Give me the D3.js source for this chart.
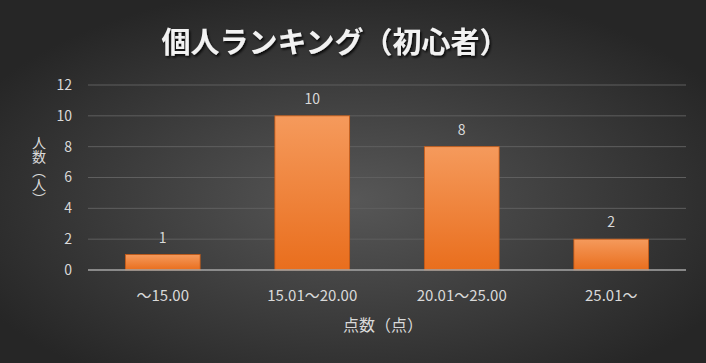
<!DOCTYPE html>
<html lang="ja">
<head>
<meta charset="utf-8" />
<title>個人ランキング（初心者）</title>
<style>
html, body { margin: 0; padding: 0; background: #2a2a2a; }
svg { display: block; }
text { font-family: "Noto Sans CJK JP", "Noto Sans", sans-serif; }
</style>
</head>
<body>
<div id="chart"></div>
<script src="https://cdnjs.cloudflare.com/ajax/libs/d3/7.8.5/d3.min.js"></script>
<script>
var categories = ["～15.00", "15.01～20.00", "20.01～25.00", "25.01～"];
var counts = [1, 10, 8, 2];
var yTicks = [0, 2, 4, 6, 8, 10, 12];
var title = "個人ランキング（初心者）";
var xTitle = "点数（点）";
var yTitle = "人数（人）";

var W = 706, H = 363;
var plotLeft = 88, plotRight = 686, plotTop = 85, plotBottom = 270;

var svg = d3.select("#chart").append("svg")
  .attr("width", W).attr("height", H);

var defs = svg.append("defs");
var bg = defs.append("radialGradient").attr("id", "bg")
  .attr("cx", "50%").attr("cy", "55%").attr("r", "60%");
bg.append("stop").attr("offset", "0%").attr("stop-color", "#575757");
bg.append("stop").attr("offset", "100%").attr("stop-color", "#262626");

var barGrad = defs.append("linearGradient").attr("id", "bar")
  .attr("x1", 0).attr("y1", 0).attr("x2", 0).attr("y2", 1);
barGrad.append("stop").attr("offset", "0%").attr("stop-color", "#f59a5c");
barGrad.append("stop").attr("offset", "100%").attr("stop-color", "#e96e1d");

var shadow = defs.append("filter").attr("id", "shadow")
  .attr("x", "-10%").attr("y", "-20%").attr("width", "120%").attr("height", "150%");
shadow.append("feDropShadow").attr("dx", 1.5).attr("dy", 2)
  .attr("stdDeviation", 1).attr("flood-color", "#000").attr("flood-opacity", 0.8);

svg.append("rect").attr("width", W).attr("height", H).attr("fill", "url(#bg)");

var x = d3.scaleBand().domain(categories).range([plotLeft, plotRight]).paddingInner(0.5).paddingOuter(0.25);
var y = d3.scaleLinear().domain([0, 12]).range([plotBottom, plotTop]);

// grid
svg.append("g").selectAll("line")
  .data(yTicks.filter(function(d) { return d > 0; }))
  .enter().append("line")
  .attr("x1", plotLeft).attr("x2", plotRight)
  .attr("y1", function(d) { return y(d); }).attr("y2", function(d) { return y(d); })
  .attr("stroke", "#5f5f5f").attr("stroke-width", 1);

// y tick labels
svg.append("g").selectAll("text")
  .data(yTicks).enter().append("text")
  .attr("x", 72).attr("y", function(d) { return y(d); })
  .attr("dy", "0.35em").attr("text-anchor", "end")
  .attr("fill", "#d9d9d9").attr("font-size", 14)
  .text(function(d) { return d; });

// bars
svg.append("g").selectAll("rect")
  .data(counts).enter().append("rect")
  .attr("x", function(d, i) { return x(categories[i]); })
  .attr("y", function(d) { return y(d); })
  .attr("width", x.bandwidth())
  .attr("height", function(d) { return y(0) - y(d); })
  .attr("fill", "url(#bar)")
  .attr("stroke", "#c85a14").attr("stroke-width", 0.8);

// value labels
svg.append("g").selectAll("text")
  .data(counts).enter().append("text")
  .attr("x", function(d, i) { return x(categories[i]) + x.bandwidth() / 2; })
  .attr("y", function(d) { return y(d) - 12; })
  .attr("text-anchor", "middle")
  .attr("fill", "#d9d9d9").attr("font-size", 14)
  .text(function(d) { return d; });

// baseline
svg.append("line")
  .attr("x1", plotLeft).attr("x2", plotRight)
  .attr("y1", y(0)).attr("y2", y(0))
  .attr("stroke", "#a6a6a6").attr("stroke-width", 1.5);

// x category labels
svg.append("g").selectAll("text")
  .data(categories).enter().append("text")
  .attr("x", function(d) { return x(d) + x.bandwidth() / 2; })
  .attr("y", 301)
  .attr("text-anchor", "middle")
  .attr("fill", "#d9d9d9").attr("font-size", 15)
  .text(function(d) { return d; });

// x title
svg.append("text")
  .attr("x", 383).attr("y", 331)
  .attr("text-anchor", "middle")
  .attr("fill", "#d9d9d9").attr("font-size", 16)
  .text(xTitle);

// y title (vertical writing)
svg.append("text")
  .attr("x", 39).attr("y", 136)
  .style("writing-mode", "vertical-rl")
  .attr("text-anchor", "start")
  .attr("fill", "#d9d9d9").attr("font-size", 14)
  .text(yTitle);

// title
svg.append("text")
  .attr("x", 335).attr("y", 53)
  .attr("text-anchor", "middle")
  .attr("fill", "#f2f2f2").attr("font-size", 29).attr("font-weight", "bold")
  .attr("filter", "url(#shadow)")
  .text(title);
</script>
</body>
</html>
